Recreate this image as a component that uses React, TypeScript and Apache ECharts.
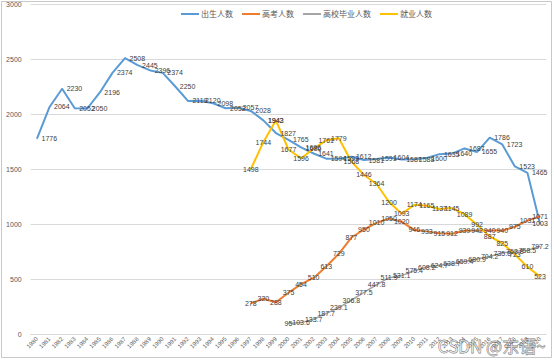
import React, { useEffect, useRef } from "react";
import * as echarts from "echarts";

const years: string[] = [];
for (let y = 1980; y <= 2020; y++) years.push(String(y));

const births: (number | null)[] = [
  1776, 2064, 2230, 2052, 2050, 2196, 2374, 2508, 2445, 2396,
  2374, 2250, 2119, 2120, 2098, 2052, 2057, 2028, 1942, 1827,
  1765, 1696, 1641, 1594, 1593, 1612, 1581, 1591, 1604, 1587,
  1588, 1600, 1635, 1640, 1687, 1655, 1786, 1723, 1523, 1465,
  1003,
];

const gaokao: (number | null)[] = [
  null, null, null, null, null, null, null, null, null, null,
  null, null, null, null, null, null, null, 278, 320, 288,
  375, 454, 510, 613, 729, 877, 950, 1010, 1050, 1020,
  946, 933, 915, 912, 939, 942, 940, 940, 975, 1031,
  1071,
];

const graduates: (number | null)[] = [
  null, null, null, null, null, null, null, null, null, null,
  null, null, null, null, null, null, null, null, null, null,
  95, 103.6, 133.7, 187.7, 239.1, 306.8, 377.5, 447.8, 511.9, 531.1,
  575.4, 608.2, 624.7, 638.7, 659.4, 680.9, 704.2, 735.8, 753.8, 758.5,
  797.2,
];

const employment: (number | null)[] = [
  null, null, null, null, null, null, null, null, null, null,
  null, null, null, null, null, null, null, 1498, 1744, 1943,
  1677, 1596, 1686, 1761, 1779, 1568, 1446, 1364, 1200, 1093,
  1174, 1165, 1137, 1145, 1089, 992, 887, 825, 723, 610,
  523,
];

const seriesNames = ["出生人数", "高考人数", "高校毕业人数", "就业人数"];
const colors = ["#5B9BD5", "#ED7D31", "#A5A5A5", "#FFC000"];

const FONT = "'Liberation Sans', 'Noto Sans CJK SC', sans-serif";

export default function App() {
  const ref = useRef<HTMLDivElement>(null);
  useEffect(() => {
    if (!ref.current) return;
    const chart = echarts.init(ref.current, undefined, { renderer: "svg" });
    const mk = (
      name: string,
      data: (number | null)[],
      color: string,
      pos: string,
      lw: number,
      lastPos?: string
    ) => ({
      name,
      type: "line",
      data: data.map((v, i) =>
        lastPos && i === data.length - 1
          ? { value: v, label: { position: lastPos } }
          : v
      ),
      symbol: "circle",
      symbolSize: 1,
      showSymbol: true,
      connectNulls: false,
      lineStyle: { color, width: lw },
      itemStyle: { color },
      label: {
        show: true,
        position: pos,
        distance: 4,
        fontSize: 7,
        color: "#404040",
        fontFamily: FONT,
      },
      z: 2,
    });
    chart.setOption({
      animation: false,
      backgroundColor: "#ffffff",
      color: colors,
      legend: {
        top: 5,
        left: 176,
        itemWidth: 18,
        itemHeight: 2,
        itemGap: 9,
        icon: "rect",
        textStyle: { fontSize: 8, color: "#595959", fontFamily: "'Noto Sans CJK SC', sans-serif", padding: [0, 0, 0, -3] },
        data: seriesNames,
      },
      grid: { left: 30.7, right: 7.7, top: 4, bottom: 26 },
      xAxis: {
        type: "category",
        data: years,
        boundaryGap: true,
        axisLine: { show: true, lineStyle: { color: "#D9D9D9" } },
        axisTick: { show: false },
        axisLabel: {
          interval: 0,
          rotate: 45,
          fontSize: 6,
          color: "#595959",
          margin: 4,
          fontFamily: FONT,
        },
      },
      yAxis: {
        type: "value",
        min: 0,
        max: 3000,
        interval: 500,
        axisLine: { show: false },
        axisTick: { show: false },
        splitLine: { lineStyle: { color: "#D9D9D9", width: 1 } },
        axisLabel: {
          fontSize: 7,
          color: "#595959",
          margin: 9,
          fontFamily: FONT,
          formatter: (v: number) => String(v),
        },
      },
      series: [
        mk(seriesNames[0], births, colors[0], "right", 2, "inside"),
        mk(seriesNames[1], gaokao, colors[1], "inside", 2),
        mk(seriesNames[2], graduates, colors[2], "inside", 1.5),
        mk(seriesNames[3], employment, colors[3], "inside", 2),
      ],
      graphic: [
        {
          type: "rect",
          shape: { x: 1.5, y: 1.5, width: 550, height: 356 },
          style: { fill: "none", stroke: "#C8C8C8", lineWidth: 1 },
          silent: true,
          z: -1,
        },
        {
          type: "text",
          right: 8,
          bottom: 6,
          style: {
            text: "CSDN @东语~",
            fontSize: 17,
            fontFamily: "'Noto Sans CJK SC', sans-serif",
            fill: "rgba(255,255,255,0.55)",
            stroke: "rgba(70,70,70,0.75)",
            lineWidth: 0.8,
          },
          z: 100,
        },
      ],
    });
    return () => chart.dispose();
  }, []);
  return (
    <div
      ref={ref}
      style={{ position: "fixed", left: 0, top: 0, width: 554, height: 360 }}
    />
  );
}
